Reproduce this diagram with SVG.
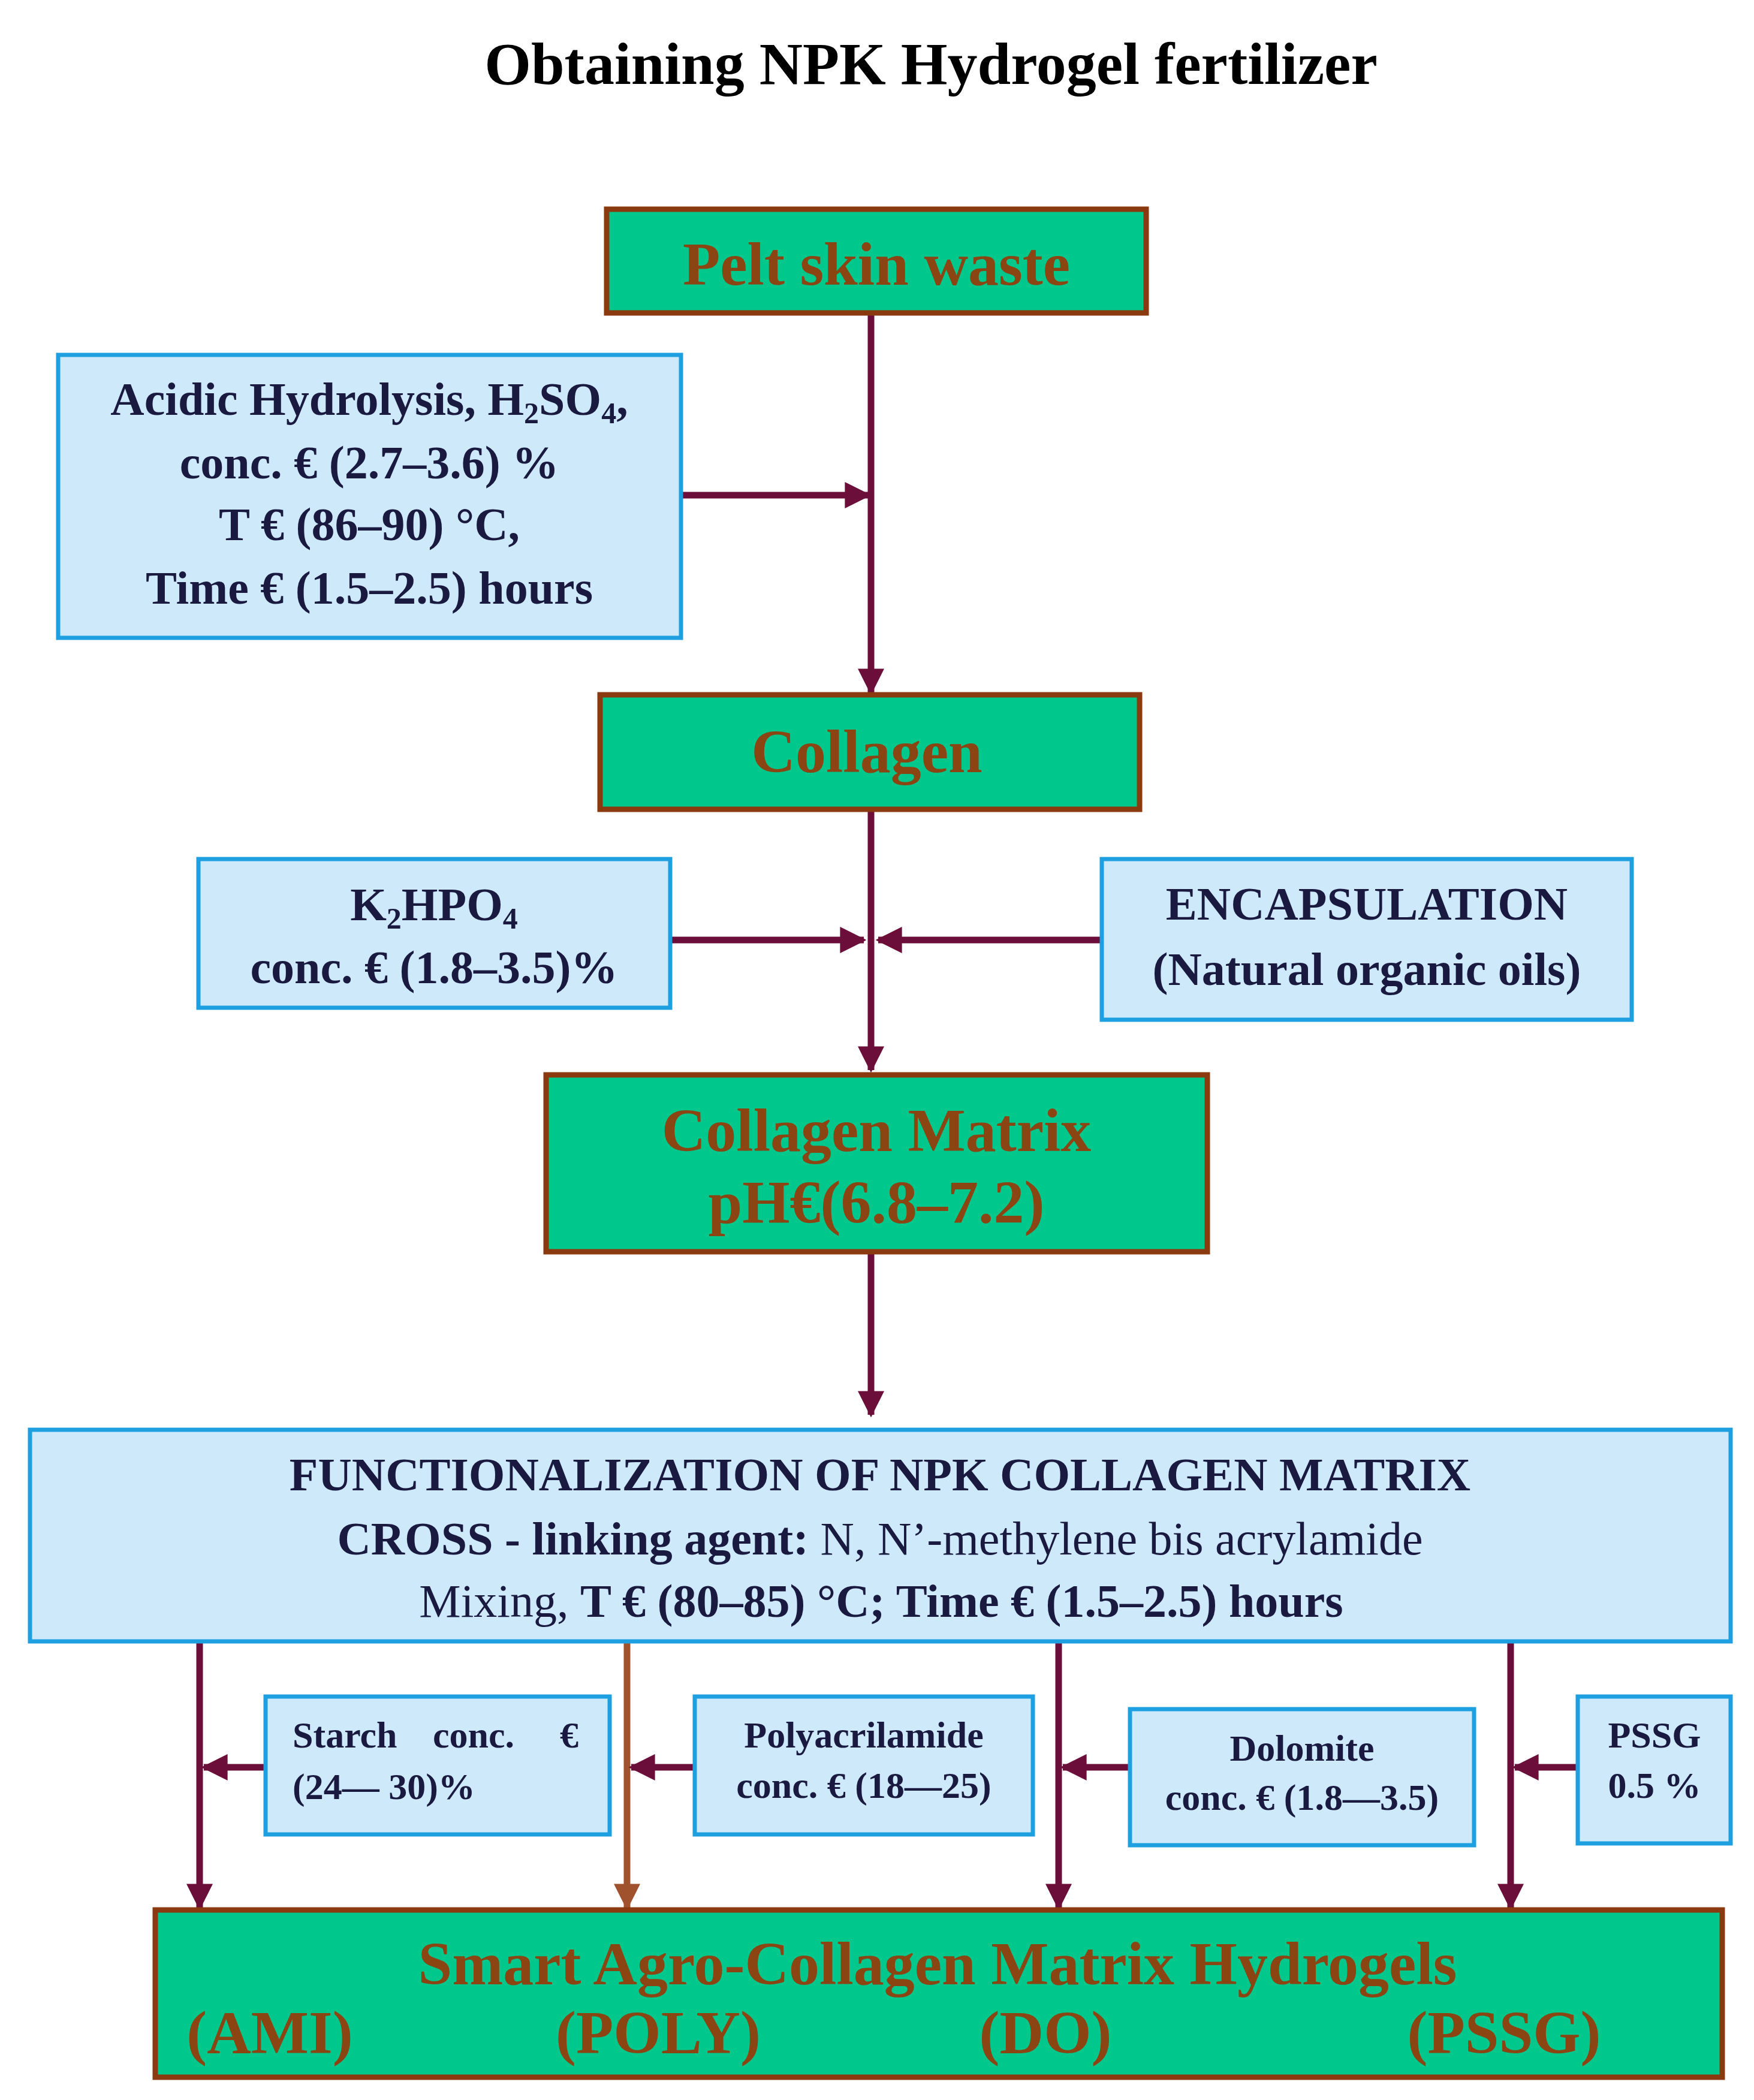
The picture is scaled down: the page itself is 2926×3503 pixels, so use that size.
<svg xmlns="http://www.w3.org/2000/svg" width="2926" height="3503" viewBox="0 0 2926 3503">
<style>
text{font-family:"Liberation Serif","Times New Roman",serif;font-weight:bold;text-anchor:middle}
.g{fill:#00C78C;stroke:#8B3A0F;stroke-width:9}
.b{fill:#CDE9FA;stroke:#1EA0E0;stroke-width:7}
.gt{fill:#8B4513;font-size:102px}
.bt{fill:#1a1a40;font-size:78px}
.st{fill:#1a1a40;font-size:62px}
.n{font-weight:normal}
.c{stroke:#6B0F3A;stroke-width:11;fill:none}
.sub{font-size:50px}
</style>
<defs>
<marker id="a" viewBox="0 0 10 10" refX="9" refY="5" markerWidth="4" markerHeight="4" orient="auto" markerUnits="strokeWidth"><path d="M0,0L10,5L0,10z" fill="#6B0F3A"/></marker>
<marker id="ab" viewBox="0 0 10 10" refX="9" refY="5" markerWidth="4" markerHeight="4" orient="auto" markerUnits="strokeWidth"><path d="M0,0L10,5L0,10z" fill="#A0522D"/></marker>
</defs>
<text x="1553" y="140" style="font-size:100px;fill:#000">Obtaining NPK Hydrogel fertilizer</text>
<g id="connectors">
<path class="c" d="M1453,522V1155" marker-end="url(#a)"/>
<path class="c" d="M1136,826H1449" marker-end="url(#a)"/>
<path class="c" d="M1453,1350V1785" marker-end="url(#a)"/>
<path class="c" d="M1118,1568H1441" marker-end="url(#a)"/>
<path class="c" d="M1838,1568H1465" marker-end="url(#a)"/>
<path class="c" d="M1453,2088V2360" marker-end="url(#a)"/>
<path class="c" d="M333,2738V3182" marker-end="url(#a)"/>
<path class="c" d="M1046,2738V3182" style="stroke:#A0522D" marker-end="url(#ab)"/>
<path class="c" d="M1766,2738V3182" marker-end="url(#a)"/>
<path class="c" d="M2520,2738V3182" marker-end="url(#a)"/>
<path class="c" d="M443,2948H340" marker-end="url(#a)"/>
<path class="c" d="M1159,2948H1053" marker-end="url(#a)"/>
<path class="c" d="M1885,2948H1773" marker-end="url(#a)"/>
<path class="c" d="M2632,2948H2527" marker-end="url(#a)"/>
</g>
<g id="pelt"><rect class="g" x="1012" y="349" width="900" height="173"/><text class="gt" x="1462" y="475">Pelt skin waste</text></g>
<g id="acid"><rect class="b" x="97" y="592" width="1039" height="472"/>
<text class="bt" x="616" y="692">Acidic Hydrolysis, H<tspan class="sub" dy="14">2</tspan><tspan dy="-14">SO</tspan><tspan class="sub" dy="14">4</tspan><tspan dy="-14">,</tspan></text>
<text class="bt" x="616" y="798">conc. € (2.7–3.6) %</text>
<text class="bt" x="616" y="901">T € (86–90) °C,</text>
<text class="bt" x="616" y="1007">Time € (1.5–2.5) hours</text></g>
<g id="collagen"><rect class="g" x="1001" y="1159" width="900" height="191"/><text class="gt" x="1446" y="1288">Collagen</text></g>
<g id="k2hpo4"><rect class="b" x="331" y="1433" width="787" height="248"/>
<text class="bt" x="724" y="1535">K<tspan class="sub" dy="14">2</tspan><tspan dy="-14">HPO</tspan><tspan class="sub" dy="14">4</tspan></text>
<text class="bt" x="724" y="1640">conc. € (1.8–3.5)%</text></g>
<g id="encap"><rect class="b" x="1838" y="1433" width="884" height="268"/>
<text class="bt" x="2280" y="1534">ENCAPSULATION</text>
<text class="bt" x="2280" y="1643">(Natural organic oils)</text></g>
<g id="matrix"><rect class="g" x="911" y="1793" width="1103" height="295"/>
<text class="gt" x="1462" y="1920">Collagen Matrix</text><text class="gt" x="1462" y="2040">pH€(6.8–7.2)</text></g>
<g id="func"><rect class="b" x="50" y="2385" width="2837" height="353"/>
<text class="bt" x="1468" y="2486">FUNCTIONALIZATION OF NPK COLLAGEN MATRIX</text>
<text class="bt" x="1468" y="2593">CROSS - linking agent: <tspan class="n">N, N’-methylene bis acrylamide</tspan></text>
<text class="bt" x="1470" y="2697"><tspan class="n">Mixing, </tspan>T € (80–85) °C; Time € (1.5–2.5) hours</text></g>
<g id="starch"><rect class="b" x="443" y="2830" width="574" height="230"/>
<text class="st" x="488" y="2915" style="text-anchor:start">Starch</text><text class="st" x="790" y="2915">conc.</text><text class="st" x="965" y="2915" style="text-anchor:end">€</text>
<text class="st" x="488" y="3001" style="text-anchor:start">(24— 30)%</text></g>
<g id="poly"><rect class="b" x="1159" y="2830" width="564" height="230"/>
<text class="st" x="1441" y="2915">Polyacrilamide</text><text class="st" x="1441" y="2999">conc. € (18—25)</text></g>
<g id="dolomite"><rect class="b" x="1885" y="2851" width="574" height="227"/>
<text class="st" x="2172" y="2937">Dolomite</text><text class="st" x="2172" y="3019">conc. € (1.8—3.5)</text></g>
<g id="pssg"><rect class="b" x="2632" y="2830" width="255" height="245"/>
<text class="st" x="2760" y="2915">PSSG</text><text class="st" x="2760" y="2999">0.5 %</text></g>
<g id="hydrogels"><rect class="g" x="259" y="3186" width="2614" height="279"/>
<text class="gt" x="1564" y="3310">Smart Agro-Collagen Matrix Hydrogels</text>
<text class="gt" x="450" y="3425">(AMI)</text><text class="gt" x="1098" y="3425">(POLY)</text><text class="gt" x="1744" y="3425">(DO)</text><text class="gt" x="2509" y="3425">(PSSG)</text></g>
</svg>
